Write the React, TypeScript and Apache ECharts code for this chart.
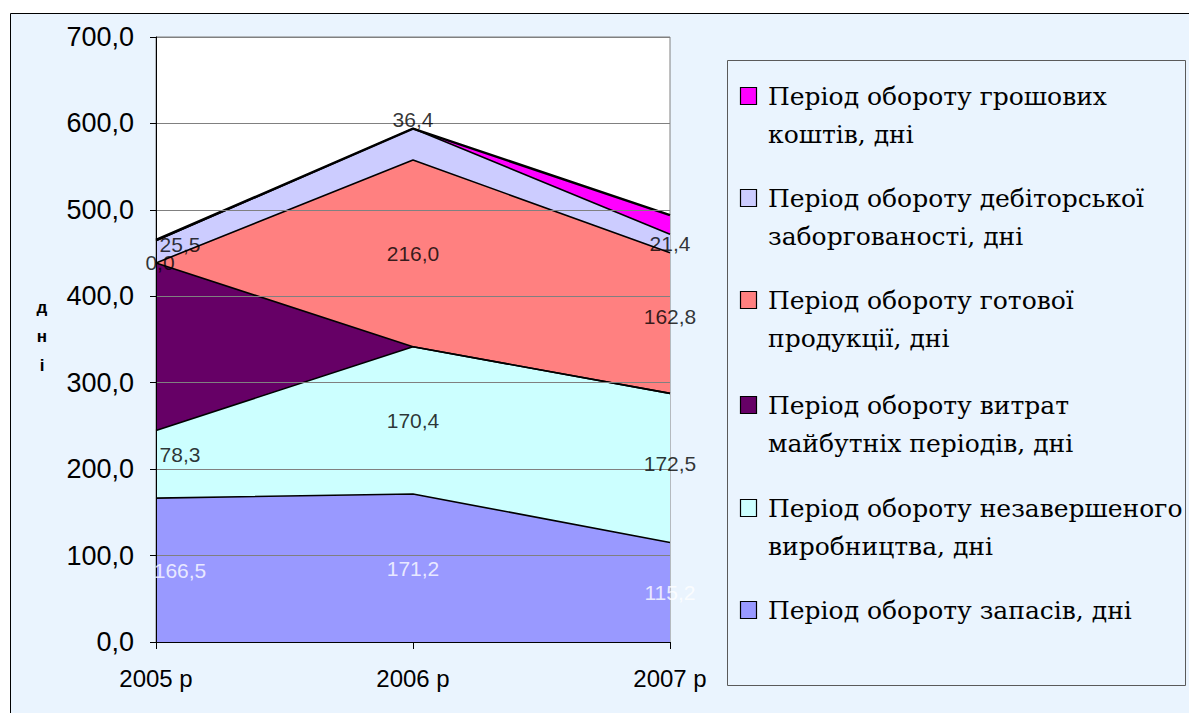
import React, { useEffect, useRef } from "react";
import * as echarts from "echarts";

const categories = ["2005 р", "2006 р", "2007 р"];

const seriesNames = [
  "Період обороту запасів, дні",
  "Період обороту незавершеного виробництва, дні",
  "Період обороту витрат майбутніх періодів, дні",
  "Період обороту готової продукції, дні",
  "Період обороту дебіторської заборгованості, дні",
  "Період обороту грошових коштів, дні",
];

const legendLines = [
  ["Період обороту запасів, дні"],
  ["Період обороту незавершеного", "виробництва, дні"],
  ["Період обороту витрат", "майбутніх періодів, дні"],
  ["Період обороту готової", "продукції, дні"],
  ["Період обороту дебіторської", "заборгованості, дні"],
  ["Період обороту грошових", "коштів, дні"],
];

const zapasy = [166.5, 171.2, 115.2];
const nezavershene = [78.3, 170.4, 172.5];
const vytraty = [193.8, 0, 0];
const hotova = [0, 216.0, 162.8];
const debitorska = [25.5, 36.4, 21.4];
const hroshovi = [1.0, 0, 22.0];

const allValues = [zapasy, nezavershene, vytraty, hotova, debitorska, hroshovi];

// which labels are shown (per series, per category)
const labelShown = [
  [true, true, true],
  [true, true, true],
  [false, false, false],
  [true, true, true],
  [true, true, true],
  [false, false, false],
];

const yTicks = [0, 700, 100];

const colors = ["#9999FF", "#CCFFFF", "#660066", "#FF8080", "#CCCCFF", "#FF00FF"];
const labelColors = ["#FFFFFF", "#000000", "#000000", "#000000", "#000000", "#000000"];

const fmt = (v: number) => v.toFixed(1).replace(".", ",");

const SANS = "Liberation Sans";
const SERIF = "DejaVu Serif";

export default function App() {
  const ref = useRef<HTMLDivElement>(null);
  useEffect(() => {
    document.body.style.margin = "0";
    const chart = echarts.init(ref.current!, undefined, { renderer: "svg" });

    const areaSeries = allValues.map((vals, si) => ({
      name: seriesNames[si],
      type: "line",
      stack: "total",
      data: vals,
      symbol: "none",
      lineStyle: { color: "#000", width: si === 5 ? 2.5 : 1.6 },
      areaStyle: { color: colors[si], opacity: 1 },
      itemStyle: { color: colors[si] },
      z: 2,
    }));

    const dxByCat = [24, 0, 0];
    const labelData: any[] = [];
    allValues.forEach((vals, si) => {
      vals.forEach((v, ci) => {
        if (!labelShown[si][ci]) return;
        let base = 0;
        for (let k = 0; k < si; k++) base += allValues[k][ci];
        const mid = base + v / 2;
        let dx = dxByCat[ci];
        let dy = 0;
        if (si === 3 && ci === 0) dx = 4;
        if (si === 4 && ci === 1) dy = -25;
        if (si === 4 && ci === 0) dy = -7;
        if (si === 1 && ci === 0) dy = -10;
        if (si === 1 && ci === 2) dy = -4;
        if (si === 3 && ci === 2) dy = -6;
        labelData.push({
          value: [categories[ci], mid],
          label: {
            show: true,
            formatter: fmt(v),
            color: labelColors[si],
            offset: [dx, dy],
          },
        });
      });
    });

    const legendGraphics: any[] = [];
    const legendTitles: any[] = [];
    const boxX = 727, boxY = 60, boxW = 458, boxH = 625;
    legendGraphics.push({
      type: "rect",
      shape: { x: boxX + 0.5, y: boxY + 0.5, width: boxW, height: boxH },
      style: { fill: "#EAF4FE", stroke: "#5a5a5a", lineWidth: 1 },
      z: -5,
    });
    const itemTops = [96, 198, 300, 405, 508, 610];
    const order = [5, 4, 3, 2, 1, 0];
    order.forEach((si, idx) => {
      const top = itemTops[idx];
      legendGraphics.push({
        type: "rect",
        shape: { x: 740.5, y: top - 8.5, width: 16, height: 17 },
        style: { fill: colors[si], stroke: "#000", lineWidth: 1.2 },
        z: 11,
      });
      legendTitles.push({
        text: legendLines[si].join("\n"),
        left: 768,
        top: top - 19,
        padding: 0,
        textStyle: {
          fontFamily: SERIF,
          fontSize: 25,
          fontWeight: "normal",
          color: "#000",
          lineHeight: 38,
        },
      });
    });

    chart.setOption({
      animation: false,
      backgroundColor: "#FFFFFF",
      title: legendTitles,
      grid: {
        left: 156,
        right: 1189 - 670,
        top: 37,
        bottom: 713 - 642,
        show: true,
        backgroundColor: "#FFFFFF",
        borderColor: "#808080",
        borderWidth: 1,
        z: 1,
      },
      xAxis: {
        type: "category",
        data: categories,
        boundaryGap: false,
        axisLine: { lineStyle: { color: "#000", width: 1 } },
        axisTick: { show: true, alignWithLabel: true, length: 7, lineStyle: { color: "#000" } },
        axisLabel: { color: "#000", fontSize: 24, margin: 24, fontFamily: SANS },
        splitLine: { show: false },
        z: 5,
      },
      yAxis: {
        type: "value",
        min: yTicks[0],
        max: yTicks[1],
        interval: yTicks[2],
        axisLine: { show: true, lineStyle: { color: "#000", width: 1 } },
        axisTick: { show: true, length: 6, lineStyle: { color: "#000" } },
        axisLabel: {
          color: "#000",
          fontSize: 27,
          margin: 22,
          formatter: (v: number) => fmt(v),
          fontFamily: SANS,
        },
        splitLine: { show: true, lineStyle: { color: "#808080", width: 1 } },
        z: 5,
      },
      series: [
        ...areaSeries,
        {
          type: "scatter",
          data: labelData,
          symbolSize: 0,
          silent: true,
          z: 6,
          label: {
            show: true,
            position: "inside",
            fontSize: 21,
            fontFamily: SANS,
          },
        },
      ],
      graphic: [
        {
          type: "rect",
          shape: { x: 10.5, y: 13.5, width: 1200, height: 720 },
          style: { fill: "#EAF4FE", stroke: "#000", lineWidth: 1 },
          z: -10,
          silent: true,
        },
        {
          type: "text",
          x: 42,
          y: 336,
          style: {
            text: "д\nн\nі",
            fontSize: 17,
            fontWeight: "bold",
            fontFamily: SANS,
            fill: "#000",
            align: "center",
            verticalAlign: "middle",
            lineHeight: 29,
          },
        },
        ...legendGraphics,
      ],
    });
    return () => chart.dispose();
  }, []);
  return <div ref={ref} style={{ width: 1189, height: 713 }} />;
}
